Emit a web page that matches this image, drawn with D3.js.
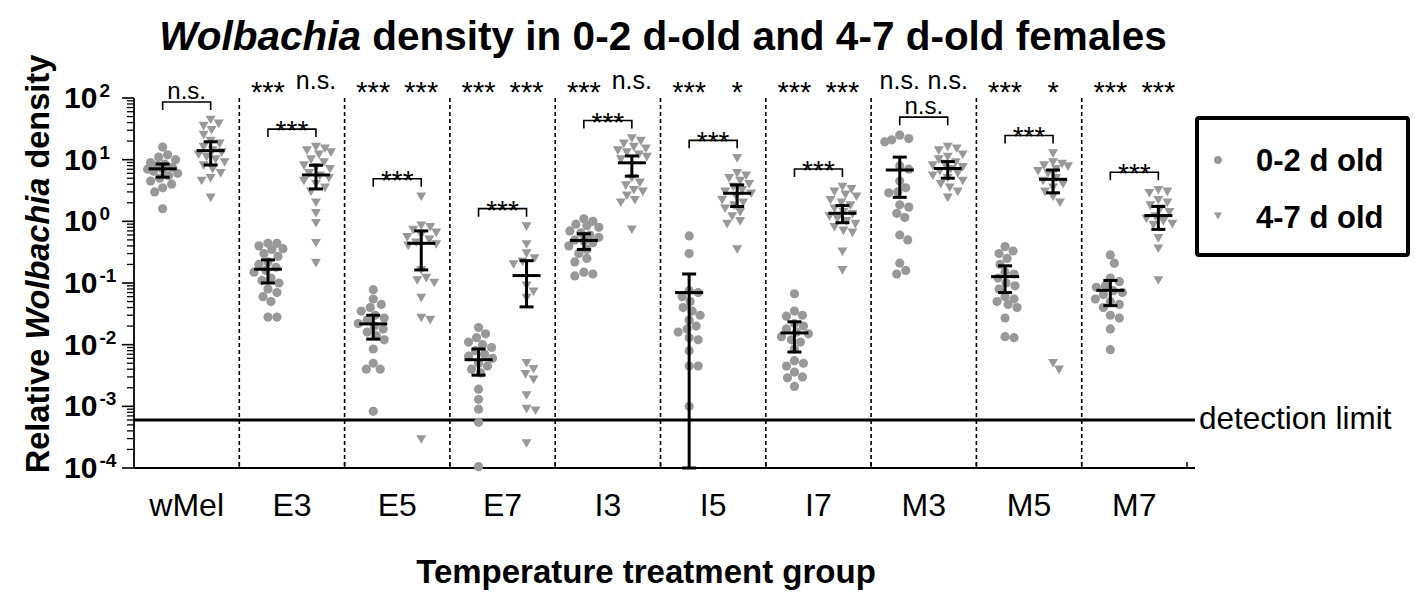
<!DOCTYPE html>
<html>
<head>
<meta charset="utf-8">
<script src="https://d3js.org/d3.v7.min.js"></script>
<style>
  body { margin: 0; background: #fff; }
  text { font-family: "Liberation Sans", Arial, sans-serif; }
</style>
</head>
<body>
<script>
// groups and values
const groups = ["wMel", "E3", "E5", "E7", "I3", "I5", "I7", "M3", "M5", "M7"];
const ages = ["0-2 d old", "4-7 d old"];

const young = [
  [16, 12, 11, 10, 9, 8.5, 8, 7.5, 7, 7, 6.5, 6, 5.5, 5, 4.5, 4, 3.5, 3, 1.6],
  [0.44, 0.44, 0.4, 0.36, 0.35, 0.3, 0.27, 0.22, 0.2, 0.18, 0.16, 0.15, 0.12, 0.11, 0.1, 0.08, 0.07, 0.06, 0.05, 0.028, 0.028],
  [0.078, 0.055, 0.045, 0.04, 0.035, 0.03, 0.027, 0.025, 0.022, 0.02, 0.018, 0.016, 0.014, 0.012, 0.0085, 0.005, 0.004, 0.004, 0.00083],
  [0.019, 0.015, 0.013, 0.011, 0.01, 0.009, 0.008, 0.007, 0.0065, 0.006, 0.005, 0.0045, 0.004, 0.0035, 0.0019, 0.0013, 0.0009, 0.00055, 0.000105],
  [1.1, 1.0, 0.9, 0.85, 0.8, 0.7, 0.65, 0.6, 0.55, 0.5, 0.48, 0.45, 0.4, 0.35, 0.3, 0.25, 0.22, 0.15, 0.14, 0.13],
  [0.58, 0.3, 0.075, 0.07, 0.06, 0.05, 0.04, 0.035, 0.03, 0.025, 0.02, 0.018, 0.016, 0.013, 0.012, 0.008, 0.0045, 0.0045, 0.001],
  [0.067, 0.035, 0.03, 0.029, 0.022, 0.02, 0.018, 0.016, 0.015, 0.0135, 0.012, 0.011, 0.0085, 0.0055, 0.005, 0.0045, 0.0036, 0.003, 0.0029, 0.0021],
  [25, 22, 21, 19.5, 8, 7, 4.5, 3.5, 3, 2.9, 1.85, 1.7, 1.35, 1.15, 0.6, 0.5, 0.21, 0.16, 0.14],
  [0.39, 0.33, 0.3, 0.25, 0.2, 0.15, 0.14, 0.12, 0.1, 0.09, 0.08, 0.06, 0.055, 0.05, 0.045, 0.04, 0.027, 0.0135, 0.013],
  [0.285, 0.21, 0.12, 0.105, 0.09, 0.085, 0.075, 0.07, 0.065, 0.055, 0.05, 0.045, 0.04, 0.03, 0.027, 0.018, 0.0083]
];
const old = [
  [44, 38, 35, 30, 25, 20, 18, 16, 14, 13, 12, 11, 10, 9, 8, 7, 6, 5, 4.5, 2.4],
  [16, 15, 14, 13, 12, 10, 9, 8, 7.5, 7, 6, 5.5, 5, 4.5, 4, 3.5, 3, 2.0, 1.35, 0.93, 0.44, 0.21],
  [2.5, 0.85, 0.8, 0.72, 0.65, 0.6, 0.55, 0.5, 0.45, 0.42, 0.4, 0.16, 0.12, 0.11, 0.1, 0.057, 0.027, 0.025, 0.00029],
  [0.82, 0.42, 0.3, 0.25, 0.22, 0.2, 0.09, 0.072, 0.057, 0.005, 0.004, 0.0033, 0.0027, 0.0015, 0.0009, 0.00085, 0.00025],
  [22, 20, 18, 16, 15, 14, 13, 12, 11, 10, 5, 4.2, 3.8, 3.2, 3, 2.6, 2.2, 2.0, 0.73],
  [10.5, 6, 5.5, 5, 4.5, 4, 3.6, 3.2, 3, 2.8, 2.5, 2.2, 2, 1.8, 1.6, 1.4, 1.2, 1.0, 0.9, 0.35],
  [3.6, 3.3, 3, 2.7, 2.5, 2.2, 2, 1.8, 1.6, 1.4, 1.3, 1.2, 1.1, 1.0, 0.9, 0.8, 0.7, 0.65, 0.32, 0.16],
  [16, 15, 14, 12, 11, 10, 9, 8.5, 8, 7.5, 7, 6.5, 6, 5.5, 5, 4.5, 4, 3.5, 3, 2.4],
  [12.6, 9, 8.5, 8, 7.7, 7, 6.5, 6, 5, 4.5, 4, 3.5, 3, 2.5, 2, 0.005, 0.0039],
  [3.2, 3.0, 2.85, 2.2, 2.0, 1.8, 1.6, 1.4, 1.2, 1.1, 1.0, 0.9, 0.87, 0.53, 0.36, 0.11]
];

const youngMean = [7.1, 0.167, 0.0217, 0.0057, 0.49, 0.070, 0.0155, 6.8, 0.127, 0.076];
const youngLo   = [5.2, 0.1, 0.0123, 0.0032, 0.35, 0.0001, 0.0076, 2.45, 0.07, 0.043];
const youngHi   = [8.5, 0.237, 0.030, 0.0085, 0.63, 0.14, 0.0235, 11, 0.19, 0.11];
const oldMean = [14, 5.65, 0.44, 0.132, 8.9, 2.85, 1.35, 7.2, 4.8, 1.24];
const oldLo   = [8.2, 3.35, 0.163, 0.041, 5.4, 1.74, 0.95, 5.0, 2.9, 0.74];
const oldHi   = [19.5, 8.1, 0.70, 0.23, 11.5, 3.9, 1.8, 9.3, 6.8, 1.74];

const youngSig = ["", "***", "***", "***", "***", "***", "***", "n.s.", "***", "***"];
const oldSig   = ["", "n.s.", "***", "***", "n.s.", "*", "***", "n.s.", "*", "***"];
const pairSig  = ["n.s.", "***", "***", "***", "***", "***", "***", "n.s.", "***", "***"];

const yTicks = [-4, -3, -2, -1, 0, 1, 2];
const detectionLimit = 0.0006;

const W = 1416, H = 593;
const pLeft = 134, pRight = 1187, pTop = 98, pBottom = 468;
const grey = "#999999";

const svg = d3.select("body").append("svg").attr("width", W).attr("height", H);

const x = d3.scaleBand().domain(groups).range([pLeft, pRight]);
const y = d3.scaleLog().domain([1e-4, 100]).range([pBottom, pTop]);
const off = 24;

// dashed separators
svg.append("g").selectAll("line")
  .data(groups.slice(1))
  .enter().append("line")
  .attr("x1", d => x(d)).attr("x2", d => x(d))
  .attr("y1", pTop).attr("y2", pBottom)
  .attr("stroke", "#000").attr("stroke-width", 1.6)
  .attr("stroke-dasharray", "4,3");

// detection limit
svg.append("line")
  .attr("x1", pLeft).attr("x2", 1195)
  .attr("y1", y(detectionLimit)).attr("y2", y(detectionLimit))
  .attr("stroke", "#000").attr("stroke-width", 3);
svg.append("text")
  .attr("x", 1199).attr("y", y(detectionLimit) + 9)
  .attr("font-size", 31.5).text("detection limit");

// axes
svg.append("line").attr("x1", pLeft).attr("x2", pLeft).attr("y1", pTop).attr("y2", pBottom)
  .attr("stroke", "#000").attr("stroke-width", 1.8);
svg.append("line").attr("x1", pLeft).attr("x2", 1195).attr("y1", pBottom).attr("y2", pBottom)
  .attr("stroke", "#000").attr("stroke-width", 1.8);

const minor = [];
yTicks.slice(0, -1).forEach(e => { for (let m = 2; m <= 9; m++) minor.push(m * Math.pow(10, e)); });
svg.append("g").selectAll("line").data(minor).enter().append("line")
  .attr("x1", pLeft - 7).attr("x2", pLeft)
  .attr("y1", d => y(d)).attr("y2", d => y(d))
  .attr("stroke", "#000").attr("stroke-width", 1.3);
svg.append("g").selectAll("line").data(yTicks).enter().append("line")
  .attr("x1", pLeft - 12).attr("x2", pLeft)
  .attr("y1", d => y(Math.pow(10, d))).attr("y2", d => y(Math.pow(10, d)))
  .attr("stroke", "#000").attr("stroke-width", 1.6);

const tl = svg.append("g").selectAll("text").data(yTicks).enter().append("text")
  .attr("x", 64).attr("y", d => y(Math.pow(10, d)) + 10)
  .attr("font-size", 30).attr("font-weight", "bold");
tl.append("tspan").text("10");
tl.append("tspan").attr("dx", 2).attr("dy", -11).attr("font-size", 19).text(d => d);

// x ticks at group boundaries
svg.append("g").selectAll("line").data(groups.slice(1).concat(["end"])).enter().append("line")
  .attr("x1", d => d === "end" ? pRight : x(d)).attr("x2", d => d === "end" ? pRight : x(d))
  .attr("y1", pBottom - 6).attr("y2", pBottom)
  .attr("stroke", "#000").attr("stroke-width", 1.5);

svg.append("g").selectAll("text").data(groups).enter().append("text")
  .attr("x", d => x(d) + x.bandwidth() / 2).attr("y", 516)
  .attr("text-anchor", "middle").attr("font-size", 32).text(d => d);

// titles
const title = svg.append("text").attr("x", 663).attr("y", 50)
  .attr("text-anchor", "middle").attr("font-size", 40.5).attr("font-weight", "bold");
title.append("tspan").attr("font-style", "italic").text("Wolbachia");
title.append("tspan").text(" density in 0-2 d-old and 4-7 d-old females");

svg.append("text").attr("x", 646).attr("y", 583)
  .attr("text-anchor", "middle").attr("font-size", 33).attr("font-weight", "bold")
  .text("Temperature treatment group");

const yt = svg.append("text")
  .attr("transform", "translate(49,264) rotate(-90)")
  .attr("text-anchor", "middle").attr("font-size", 32.5).attr("font-weight", "bold");
yt.append("tspan").text("Relative ");
yt.append("tspan").attr("font-style", "italic").text("Wolbachia");
yt.append("tspan").text(" density");

// swarm layout
const R = 4.6;
function swarm(vals, cx) {
  const pts = vals.map(v => ({ v: v, y: y(v) })).sort((a, b) => a.y - b.y);
  const placed = [];
  pts.forEach(p => {
    let best = 0, bestD = -1;
    for (let k = 0; k <= 30; k++) {
      const o = (k % 2 ? 1 : -1) * Math.ceil(k / 2);
      let md = Infinity;
      placed.forEach(q => { md = Math.min(md, Math.hypot(q.x - (cx + o), q.y - p.y)); });
      if (md >= 2 * R - 0.3) { best = o; bestD = md; break; }
      if (md > bestD) { bestD = md; best = o; }
    }
    p.x = cx + best;
    placed.push(p);
  });
  return placed;
}

const tri = "M-5,-4.3L5,-4.3L0,4.3Z";

groups.forEach((g, i) => {
  const cx = x(g) + x.bandwidth() / 2;
  const cy = cx - off, co = cx + off;
  const gg = svg.append("g");

  gg.selectAll("circle").data(swarm(young[i], cy)).enter().append("circle")
    .attr("cx", d => d.x).attr("cy", d => d.y).attr("r", R).attr("fill", grey);
  gg.selectAll("path.t").data(swarm(old[i], co)).enter().append("path")
    .attr("class", "t").attr("d", tri)
    .attr("transform", d => `translate(${d.x},${d.y})`).attr("fill", grey);

  // mean and CI
  [[cy, youngMean[i], youngLo[i], youngHi[i]], [co, oldMean[i], oldLo[i], oldHi[i]]].forEach(s => {
    const [sx, m, lo, hi] = s;
    const e = gg.append("g").attr("stroke", "#000").attr("stroke-width", 3);
    e.append("line").attr("x1", sx).attr("x2", sx).attr("y1", y(lo)).attr("y2", y(hi));
    e.append("line").attr("x1", sx - 7).attr("x2", sx + 7).attr("y1", y(lo)).attr("y2", y(lo));
    e.append("line").attr("x1", sx - 7).attr("x2", sx + 7).attr("y1", y(hi)).attr("y2", y(hi));
    e.append("line").attr("x1", sx - 14).attr("x2", sx + 14).attr("y1", y(m)).attr("y2", y(m));
  });

  // significance vs wMel
  [[cy, youngSig[i]], [co, oldSig[i]]].forEach(s => {
    if (!s[1]) return;
    const ns = s[1] === "n.s.";
    gg.append("text").attr("x", s[0]).attr("y", ns ? 89 : 102)
      .attr("text-anchor", "middle").attr("font-size", ns ? 25 : 29).text(s[1]);
  });

  // bracket between ages
  const by = y(d3.max(young[i].concat(old[i]))) - 18;
  const ns = pairSig[i] === "n.s.";
  gg.append("path")
    .attr("d", `M${cy},${by + 8}V${by}H${co}V${by + 8}`)
    .attr("fill", "none").attr("stroke", "#000").attr("stroke-width", 1.6);
  gg.append("text").attr("x", cx).attr("y", ns ? by - 3 : by + 11)
    .attr("text-anchor", "middle").attr("font-size", ns ? 24 : 28).text(pairSig[i]);
});

// legend
const lg = svg.append("g");
lg.append("rect").attr("x", 1197).attr("y", 118).attr("width", 211).attr("height", 137)
  .attr("fill", "#fff").attr("stroke", "#000").attr("stroke-width", 4).attr("rx", 2);
lg.append("circle").attr("cx", 1218).attr("cy", 160).attr("r", 4).attr("fill", grey);
lg.append("path").attr("d", "M-4,-3.5L4,-3.5L0,3.5Z").attr("transform", "translate(1218,216)").attr("fill", grey);
lg.selectAll("text").data(ages).enter().append("text")
  .attr("x", 1256).attr("y", (d, i) => 171 + i * 57)
  .attr("font-size", 31).attr("font-weight", "bold").text(d => d);
</script>
</body>
</html>
